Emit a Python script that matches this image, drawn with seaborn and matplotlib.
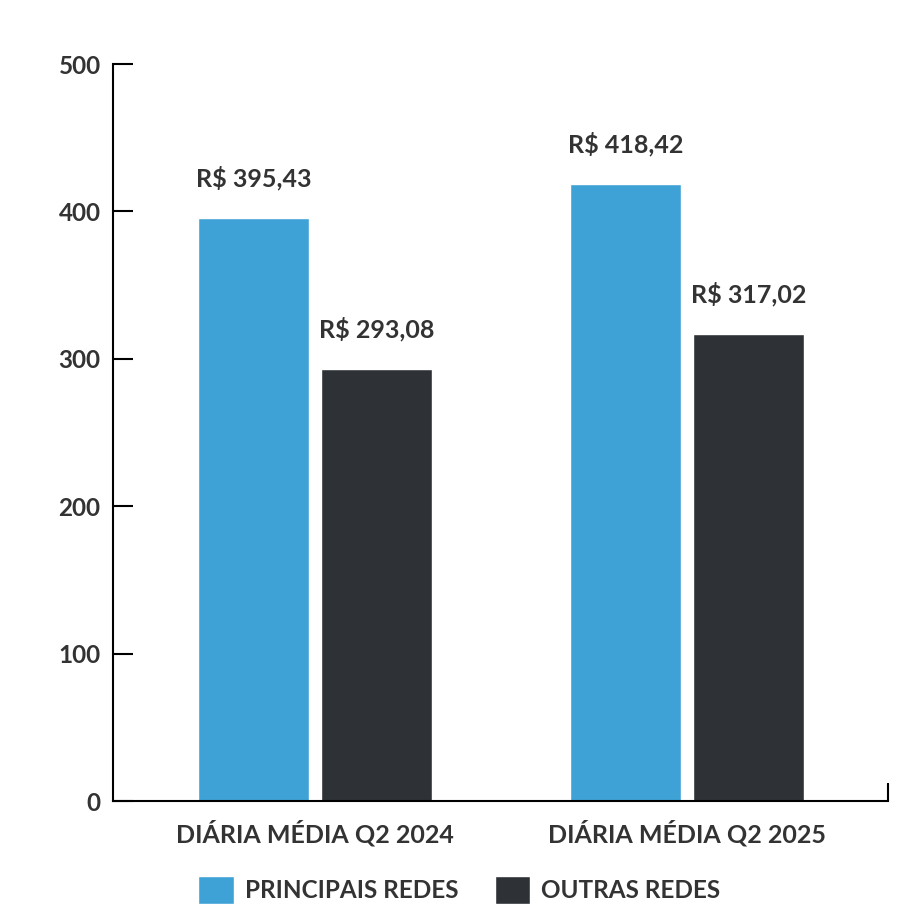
import seaborn as sns
import matplotlib.pyplot as plt
import pandas as pd

# dados do grafico
periodos = ["DIÁRIA MÉDIA Q2 2024", "DIÁRIA MÉDIA Q2 2025"]
series = ["PRINCIPAIS REDES", "OUTRAS REDES"]
principais = [395.43, 418.42]
outras = [293.08, 317.02]
cores = ["#3FA2D7", "#2E3236"]

df = pd.DataFrame({
    "periodo": periodos * 2,
    "rede": [series[0]] * 2 + [series[1]] * 2,
    "valor": principais + outras,
})

sns.set_style("white")
plt.rcParams["font.family"] = ["Lato", "DejaVu Sans"]
texto = "#333333"

fig = plt.figure(figsize=(9.22, 9.24), dpi=100)
ax = fig.add_axes([0.1226, 0.1331, 0.963 - 0.1226, 0.9307 - 0.1331])

sns.barplot(data=df, x="periodo", y="valor", hue="rede", palette=cores,
            width=0.661, gap=0.1, saturation=1, ax=ax, errorbar=None)

for cont in ax.containers:
    rotulos = [f"R$ {v:.2f}".replace(".", ",") for v in cont.datavalues]
    ax.bar_label(cont, labels=rotulos, padding=20, fontsize=18,
                 fontweight="bold", color=texto)

ax.set_xlim(-0.543, 1.540)
ax.set_ylim(0, 500)
ax.set_yticks([0, 100, 200, 300, 400, 500])
ax.set_xlabel("")
ax.set_ylabel("")

sns.despine(ax=ax)
for s in ["left", "bottom"]:
    ax.spines[s].set_color("black")
    ax.spines[s].set_linewidth(1.5)

ax.tick_params(axis="y", direction="in", length=14.5, width=1.5, pad=9,
               labelsize=17.5, labelcolor=texto, color="black", left=True)
ax.tick_params(axis="x", which="major", length=0, pad=14, labelsize=18,
               labelcolor=texto)
for t in ax.get_xticklabels() + ax.get_yticklabels():
    t.set_fontweight("bold")

# tracinho no fim do eixo x
ax.set_xticks([1.540], minor=True)
ax.tick_params(axis="x", which="minor", direction="in", length=13, width=1.5,
               color="black", bottom=True)

handles, labels = ax.get_legend_handles_labels()
ax.get_legend().remove()
fig.legend(handles, labels, loc="center", bbox_to_anchor=(0.498, 0.0368),
           ncol=2, frameon=False, handlelength=1.45,
           handleheight=1.45, handletextpad=0.45, columnspacing=1.5,
           prop={"weight": "bold", "size": 17.5}, labelcolor=texto)

fig.savefig("out.png", dpi=100, facecolor="white")
